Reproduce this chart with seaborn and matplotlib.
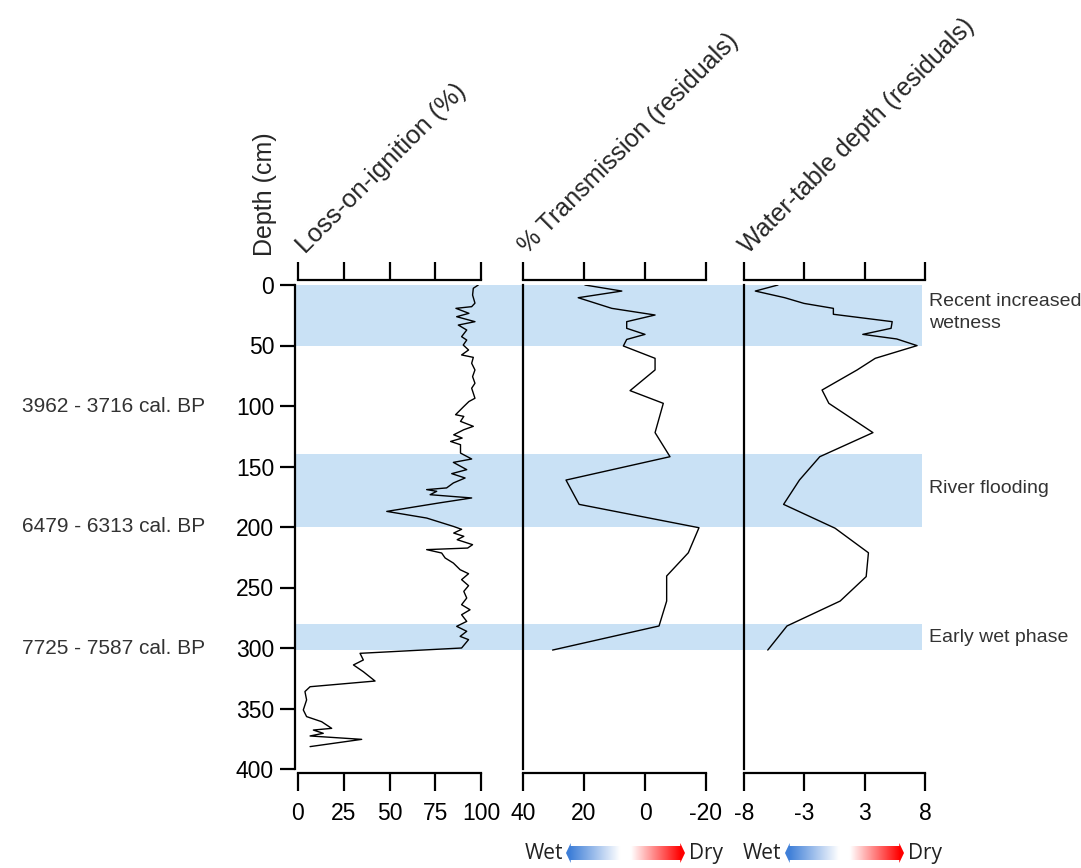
import matplotlib.pyplot as plt
from matplotlib.colors import LinearSegmentedColormap
from matplotlib.patches import Polygon
import matplotlib.transforms as mtransforms
import numpy as np
import pandas as pd
import seaborn as sns

# Loss-on-ignition (%) against depth (cm)
loi_depth = [0, 2.7, 8.3, 15, 17.9, 19.3, 23.4, 26.2, 30.3, 33.1, 37.2, 42.7, 45.5, 49.6,
             53.7, 57.8, 59.8, 64.7, 70.2, 75.7, 81.2, 85.3, 93.6, 96.3, 100.4, 107.2,
             108.6, 112.7, 116.8, 119.6, 123.8, 126.5, 129.3, 132.0, 138.9, 143.8, 146.6,
             152.6, 155.9, 159.5, 163.6, 167.7, 169.1, 170.5, 173.3, 176.0, 180, 184,
             187.1, 192.6, 199.5, 201.9, 205, 207.7, 210.5, 214.6, 217.4, 218.7, 221.5,
             225.6, 229.8, 235.3, 238.6, 243.5, 248.5, 253.2, 258.7, 264.2, 268.4, 272.5,
             278.0, 282.1, 286.2, 290.4, 293.1, 300, 304.4, 309.9, 314, 319.6, 327.3, 332,
             336, 342.9, 351.2, 356.7, 360.9, 366.4, 367.8, 370.5, 372.7, 375.5, 381.5]
loi_value = [98.5, 95.8, 95.4, 96.7, 94.9, 86.3, 93.4, 86.7, 96.7, 87.6, 92.2, 89.4, 92.2, 90.3,
             93.2, 89.4, 95.8, 94.9, 96.7, 95.4, 96.7, 94.9, 96.7, 93.4, 90.6, 86.1,
             90.6, 88.8, 95.8, 90.6, 85.1, 89.7, 83.4, 88.8, 88.8, 94.9, 84.9,
             92.2, 84.0, 91.3, 84.9, 81.2, 70.3, 75.8, 72.2, 94.9, 77.6, 61.2,
             48.5, 70.3, 84.9, 89.4, 85.1, 90.6, 87.0, 95.4, 92.7, 70.3, 78.5,
             80.4, 84.9, 88.6, 93.2, 89.4, 93.2, 90.6, 92.2, 89.4, 94.0, 89.4,
             92.2, 86.7, 92.2, 88.6, 93.2, 89.4, 33.9, 35.7, 30.3, 35.7, 42.1, 6.6,
             3.8, 4.7, 2.9, 4.7, 12.9, 18.4, 8.4, 13.8, 6.6, 34.8, 6.6]

# % Transmission residuals
trans_depth = [0, 5, 10.5, 19.3, 24.8, 30.3, 35.8, 40.8, 45, 50.4, 60.6, 70.2, 87.3, 97.8,
               122, 141.9, 161.2, 181.3, 200.6, 221.3, 240.5, 261.2, 281.8, 301.7]
trans_value = [19.7, 7.6, 21.9, 10.9, -3.3, 6.0, 6.0, 0.0, 6.0, 7.1, -3.3, -3.3, 4.9, -6.0,
               -3.3, -8.2, 25.9, 21.6, -17.7, -14.2, -7.1, -7.1, -4.6, 30.3]

# Water-table depth residuals
wt_depth = [0, 5, 10.5, 15.2, 19.3, 24.2, 30.3, 35.8, 40.8, 44.6, 50.1, 60.6, 70.2, 86.8,
            97.8, 122, 141.9, 161.2, 181.3, 201, 221.3, 241, 261.2, 281.8, 301.7]
wt_value = [-5.0, -7.0, -4.4, -2.7, -0.1, -0.1, 5.1, 5.0, 2.5, 5.5, 7.3, 3.6, 2.0, -1.1,
            -0.5, 3.4, -1.3, -3.1, -4.5, 0.05, 3.0, 2.8, 0.5, -4.2, -5.9]

bands = [(0, 50), (140, 200), (280, 302)]
band_labels = ['Recent increased\nwetness', 'River flooding', 'Early wet phase']
band_label_depth = [22.5, 168, 291]
dates = ['3962 - 3716 cal. BP', '6479 - 6313 cal. BP', '7725 - 7587 cal. BP']
date_depth = [100, 200, 300]

depth_ticks = [0, 50, 100, 150, 200, 250, 300, 350, 400]
loi_ticks = [0, 25, 50, 75, 100]
trans_ticks = [40, 20, 0, -20]
wt_ticks = [-8, -8 / 3, 8 / 3, 8]
wt_ticklabels = ['-8', '-3', '3', '8']

sns.set_style('white')
plt.rcParams['font.family'] = ['Liberation Sans', 'DejaVu Sans']
plt.rcParams['axes.unicode_minus'] = False

W, H = 1081, 868
fig = plt.figure(figsize=(W / 100, H / 100), dpi=100)


def box(x0, x1, y0, y1):
    return [x0 / W, 1 - y1 / H, (x1 - x0) / W, (y1 - y0) / H]


# shaded phases behind all three panels
ax_bg = fig.add_axes(box(296, 922, 285, 769), zorder=0)
ax_bg.set_xlim(0, 1)
ax_bg.set_ylim(400, 0)
for top, bot in bands:
    ax_bg.axhspan(top, bot, color='#c9e1f5', lw=0)
ax_bg.axis('off')

panels = [
    (box(298, 481, 285, 769), loi_depth, loi_value, (0, 100), loi_ticks, [str(t) for t in loi_ticks]),
    (box(523, 706, 285, 769), trans_depth, trans_value, (40, -20), trans_ticks, [str(t) for t in trans_ticks]),
    (box(744, 925, 285, 769), wt_depth, wt_value, (-8, 8), wt_ticks, wt_ticklabels),
]

axes = []
for i, (rect, dep, val, xl, ticks, labels) in enumerate(panels):
    ax = fig.add_axes(rect, zorder=1)
    ax.set_facecolor('none')
    df = pd.DataFrame({'depth': dep, 'value': val})
    sns.lineplot(data=df, x='value', y='depth', orient='y', sort=False, estimator=None,
                 color='black', linewidth=1.0, ax=ax)
    ax.set_xlim(*xl)
    ax.set_ylim(400, 0)
    ax.set_xlabel('')
    ax.set_ylabel('')
    ax.set_xticks(ticks)
    ax.set_xticklabels(labels)
    ax.spines['right'].set_visible(False)
    for s in ['top', 'bottom', 'left']:
        ax.spines[s].set_linewidth(1.6)
        ax.spines[s].set_color('black')
    ax.spines['top'].set_position(('outward', 3.6))
    ax.spines['bottom'].set_position(('outward', 2.9))
    ax.tick_params(axis='x', which='both', top=True, bottom=True, labeltop=False,
                   direction='out', length=13, width=1.6, labelsize=16.5, pad=8,
                   color='black', labelcolor='black')
    if i == 0:
        ax.spines['left'].set_position(('outward', 2.2))
        ax.set_yticks(depth_ticks)
        ax.tick_params(axis='y', left=True, direction='out', length=11, width=1.6,
                       labelsize=16.5, pad=4, color='black', labelcolor='black')
    else:
        ax.tick_params(axis='y', left=False, labelleft=False)
    axes.append(ax)

# calibrated ages on the left, phase names on the right
trans_left = mtransforms.blended_transform_factory(fig.transFigure, axes[0].transData)
for d, lab in zip(date_depth, dates):
    fig.text(205 / W, d, lab, transform=trans_left, ha='right', va='center',
             fontsize=15, color='#333333')
for d, lab in zip(band_label_depth, band_labels):
    fig.text(929 / W, d, lab, transform=trans_left, ha='left', va='center',
             fontsize=14, color='#333333', linespacing=1.4)

# panel titles
fig.text(265 / W, 1 - 256 / H, 'Depth (cm)', rotation=90, ha='center', va='bottom', fontsize=18)
fig.text(292 / W, 1 - 258 / H, 'Loss-on-ignition (%)', rotation=45, ha='left', va='bottom', fontsize=18.5)
fig.text(514 / W, 1 - 258 / H, '% Transmission (residuals)', rotation=45, ha='left', va='bottom', fontsize=18)
fig.text(735 / W, 1 - 258 / H, 'Water-table depth (residuals)', rotation=45, ha='left', va='bottom', fontsize=18)

# Wet / Dry gradient arrows
cmap = LinearSegmentedColormap.from_list(
    'wetdry', [(0, '#3f7fd8'), (0.45, '#ffffff'), (0.55, '#ffffff'), (1, '#ff0000')])


def wet_dry(x0, x1, yc, wet_x, dry_x):
    ax = fig.add_axes(box(x0, x1, yc - 10, yc + 10))
    ax.set_xlim(0, 1)
    ax.set_ylim(0, 1)
    ax.imshow(np.linspace(0, 1, 256).reshape(1, -1), cmap=cmap, aspect='auto',
              extent=(0.035, 0.965, 0.15, 0.85))
    ax.add_patch(Polygon([(0, 0.5), (0.04, 1.0), (0.04, 0.0)], closed=True, color='#3f7fd8', lw=0))
    ax.add_patch(Polygon([(1, 0.5), (0.96, 1.0), (0.96, 0.0)], closed=True, color='#ff0000', lw=0))
    ax.axis('off')
    base = 1 - (yc + 6) / H
    fig.text(wet_x / W, base, 'Wet', ha='right', va='baseline', fontsize=15,
             color='#222222', family=['Open Sans', 'DejaVu Sans'])
    fig.text(dry_x / W, base, 'Dry', ha='left', va='baseline', fontsize=15,
             color='#222222', family=['Open Sans', 'DejaVu Sans'])


wet_dry(566, 685, 853, 563, 689)
wet_dry(785, 904, 853, 781, 908)

fig.savefig('out.png', dpi=100)
